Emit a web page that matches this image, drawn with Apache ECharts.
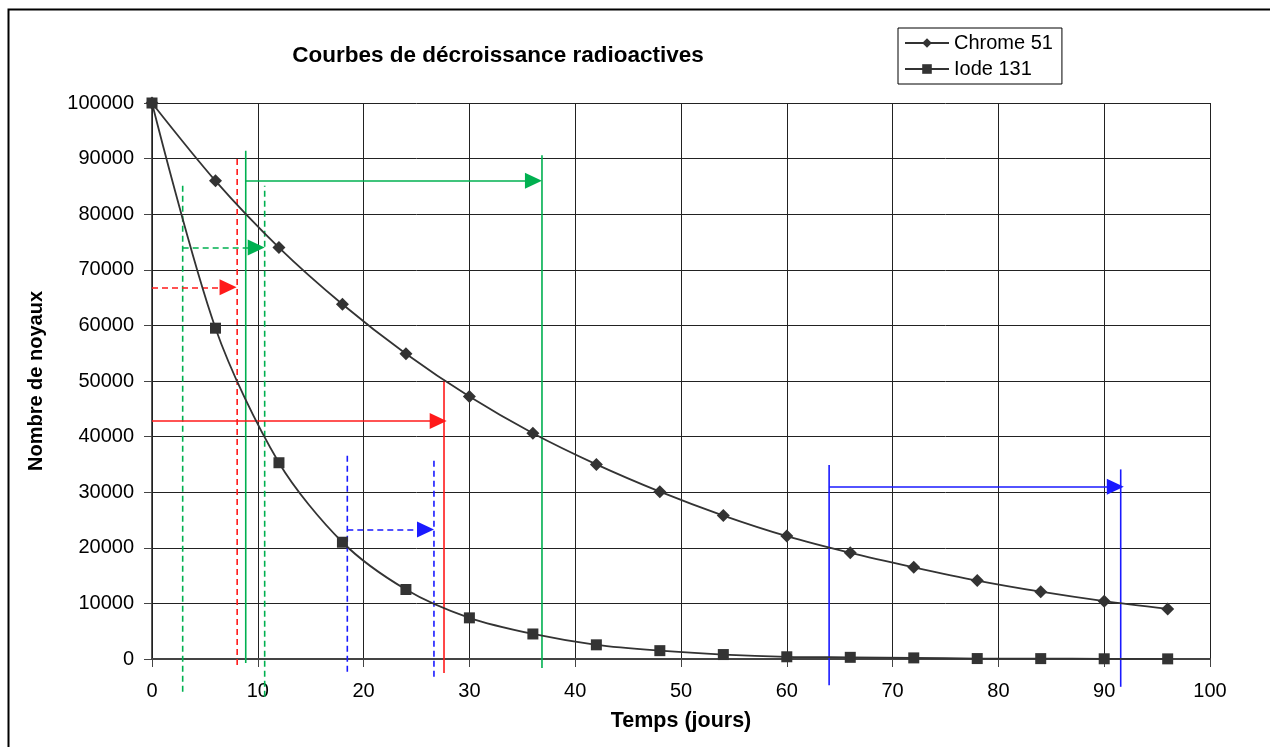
<!DOCTYPE html>
<html>
<head>
<meta charset="utf-8">
<script src="https://cdn.jsdelivr.net/npm/echarts@6/dist/echarts.min.js"></script>
<style>
html,body{margin:0;padding:0;background:#fff;}
#chart{width:1270px;height:747px;}
</style>
</head>
<body>
<div id="chart"></div>
<script>
// ---- data ----
const titleText = 'Courbes de décroissance radioactives';
const xName = 'Temps (jours)';
const yName = 'Nombre de noyaux';
const seriesNames = ['Chrome 51', 'Iode 131'];
const days = [0, 6, 12, 18, 24, 30, 36, 42, 48, 54, 60, 66, 72, 78, 84, 90, 96];
const chrome51 = [100000, 86000, 74000, 63800, 54900, 47200, 40600, 35000, 30100, 25800, 22100, 19100, 16500, 14100, 12100, 10400, 9000];
const iode131 = [100000, 59500, 35300, 21000, 12500, 7400, 4500, 2550, 1500, 800, 400, 300, 200, 80, 70, 40, 25];
const xMin = 0, xMax = 100, xStep = 10;
const yMin = 0, yMax = 100000, yStep = 10000;

// annotation vertical guides: [x, yBottom, yTop]
const redDashedV = [8.05, -1100, 90500];
const greenDashedV1 = [2.9, -5900, 85800];
const greenDashedV2 = [10.65, -6800, 85100];
const greenSolidV1 = [8.86, -700, 91400];
const greenSolidV2 = [36.86, -1600, 90600];
const redSolidV = [27.6, -2500, 49900];
const blueDashedV1 = [18.46, -2300, 37200];
const blueDashedV2 = [26.65, -3200, 36300];
const blueSolidV1 = [64.0, -4700, 34900];
const blueSolidV2 = [91.56, -5000, 34100];
// annotation arrows: [xStart, xTip, y]
const redDashedArrow = [0, 7.94, 66850];
const greenDashedArrow = [2.9, 10.6, 74000];
const greenSolidArrow = [8.86, 36.8, 86000];
const redSolidArrow = [0, 27.8, 42800];
const blueDashedArrow = [18.46, 26.6, 23300];
const blueSolidArrow = [64.0, 91.8, 31000];

// ---- styles ----
const RED = '#ff1a1a', GREEN = '#00b050', BLUE = '#1a1aff';
const FONT = '"Liberation Sans", Arial, sans-serif';
const ARROW_BACK = 0.75;

function vLine(v, color, dashed) {
  return {
    type: 'line', data: [[v[0], v[1]], [v[0], v[2]]], symbol: 'none', clip: false,
    silent: true, legendHoverLink: false, z: 3,
    lineStyle: { color: color, width: 1.6, type: dashed ? [6, 4] : 'solid' }
  };
}
function arrow(a, color, dashed) {
  return {
    type: 'line', data: [], symbol: 'none', silent: true, z: 4,
    markLine: {
      silent: true, symbol: ['none', 'triangle'], symbolSize: [16, 17],
      label: { show: false },
      lineStyle: { color: color, width: 1.6, type: dashed ? [6, 4] : 'solid' },
      itemStyle: { color: color },
      emphasis: { disabled: true },
      animation: false,
      data: [[{ coord: [a[0], a[2]] }, { coord: [a[1] - ARROW_BACK, a[2]] }]]
    }
  };
}

const chart = echarts.init(document.getElementById('chart'), null, { renderer: 'canvas' });
const option = {
  animation: false,
  backgroundColor: '#fff',
  textStyle: { fontFamily: FONT },
  title: {
    text: titleText, left: 493, top: 39, textAlign: 'center',
    textStyle: { fontFamily: FONT, fontSize: 22.5, fontWeight: 'bold', color: '#000' }
  },
  legend: {
    orient: 'vertical', left: 898, top: 28,
    data: seriesNames,
    itemWidth: 44, itemHeight: 12, itemGap: 6,
    padding: [5, 9, 5, 6],
    borderColor: '#000', borderWidth: 1, backgroundColor: '#fff',
    textStyle: { fontFamily: FONT, fontSize: 20, color: '#000' }
  },
  grid: { left: 152, right: 60, top: 103, bottom: 88, containLabel: false },
  xAxis: {
    type: 'value', min: xMin, max: xMax, interval: xStep,
    name: xName, nameLocation: 'middle', nameGap: 51,
    nameTextStyle: { fontFamily: FONT, fontSize: 21.5, fontWeight: 'bold', color: '#000' },
    axisLine: { show: true, lineStyle: { color: '#444', width: 2 } },
    axisTick: { show: true, length: 8, lineStyle: { color: '#444' } },
    axisLabel: { fontFamily: FONT, fontSize: 20, color: '#000', margin: 22 },
    splitLine: { show: true, lineStyle: { color: '#222', width: 1 } }
  },
  yAxis: {
    type: 'value', min: yMin, max: yMax, interval: yStep,
    name: yName, nameLocation: 'middle', nameGap: 106, nameRotate: 90,
    nameTextStyle: { fontFamily: FONT, fontSize: 20, fontWeight: 'bold', color: '#000' },
    axisLine: { show: true, onZero: false, lineStyle: { color: '#222', width: 1.5 } },
    axisTick: { show: true, length: 8, lineStyle: { color: '#444' } },
    axisLabel: { fontFamily: FONT, fontSize: 20, color: '#000', margin: 18, formatter: v => String(v) },
    splitLine: { show: true, lineStyle: { color: '#222', width: 1 } }
  },
  graphic: [{
    type: 'rect', left: 6, top: 7, z: 100, silent: true,
    shape: { width: 1300, height: 800 },
    style: { fill: null, stroke: '#000', lineWidth: 2 }
  }],
  series: [
    {
      name: seriesNames[0], type: 'line', smooth: 0.3, z: 5,
      data: days.map((d, i) => [d, chrome51[i]]),
      symbol: 'diamond', symbolSize: 13, showAllSymbol: true,
      lineStyle: { color: '#333', width: 1.8 },
      itemStyle: { color: '#333' }
    },
    {
      name: seriesNames[1], type: 'line', smooth: 0.3, z: 5,
      data: days.map((d, i) => [d, iode131[i]]),
      symbol: 'rect', symbolSize: 11, showAllSymbol: true,
      lineStyle: { color: '#333', width: 1.8 },
      itemStyle: { color: '#333' }
    },
    vLine(redDashedV, RED, true),
    vLine(greenDashedV1, GREEN, true),
    vLine(greenDashedV2, GREEN, true),
    vLine(greenSolidV1, GREEN, false),
    vLine(greenSolidV2, GREEN, false),
    vLine(redSolidV, RED, false),
    vLine(blueDashedV1, BLUE, true),
    vLine(blueDashedV2, BLUE, true),
    vLine(blueSolidV1, BLUE, false),
    vLine(blueSolidV2, BLUE, false),
    arrow(redDashedArrow, RED, true),
    arrow(greenDashedArrow, GREEN, true),
    arrow(greenSolidArrow, GREEN, false),
    arrow(redSolidArrow, RED, false),
    arrow(blueDashedArrow, BLUE, true),
    arrow(blueSolidArrow, BLUE, false)
  ]
};
chart.setOption(option);
</script>
</body>
</html>
